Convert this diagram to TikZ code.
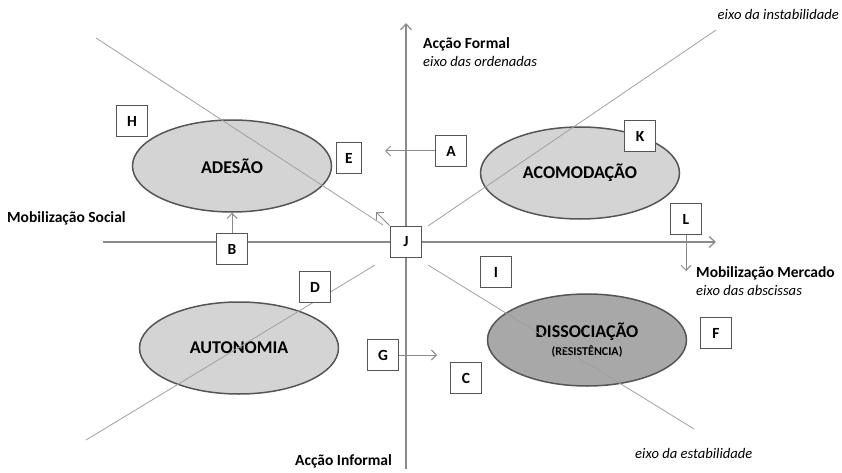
\documentclass[tikz,border=0pt]{standalone}
\usepackage{fontspec}
\setmainfont{Carlito}
\usetikzlibrary{arrows.meta,shapes.geometric}
\definecolor{axisgray}{HTML}{8A8A8A}
\definecolor{linegray}{HTML}{A0A0A0}
\definecolor{lightfill}{HTML}{D4D4D4}
\definecolor{darkfill}{HTML}{A8A8A8}
\definecolor{rimgray}{HTML}{555555}
\newcommand{\axisnote}[1]{{\fontsize{14.6}{18}\selectfont\itshape #1}}
\tikzset{
	letterbox/.style={draw=rimgray, line width=1.8pt, fill=white, minimum width=31pt, minimum height=31pt, inner sep=0pt, font=\fontsize{15.5}{15.5}\selectfont\bfseries},
	zone/.style={ellipse, draw=rimgray, line width=1.5pt, fill=lightfill, minimum width=199pt, minimum height=92pt, inner sep=0pt, font=\fontsize{18}{18}\selectfont\bfseries},
	axis/.style={draw=axisgray, line width=1.2pt},
	diag/.style={draw=linegray, line width=0.8pt},
	pointer/.style={draw=axisgray, line width=1pt, -{Straight Barb[length=5pt,width=10pt]}},
	axislabel/.style={anchor=west, inner sep=0pt, align=left, font=\fontsize{15.5}{18}\selectfont},
}
\begin{document}
\begin{tikzpicture}[x=1pt,y=-1pt]
		\useasboundingbox (0,0) rectangle (842,473);
		
		% eixos
		\coordinate (Ytop) at (406,23);
		\coordinate (Ybot) at (406,469);
		\coordinate (Xleft) at (103,242);
		\coordinate (Xright) at (716,242);
		\draw[axis, -{Straight Barb[length=6pt,width=11pt]}] (Ybot)--(Ytop);
		\draw[axis, -{Straight Barb[length=6pt,width=11pt]}] (Xleft)--(Xright);
		
		% zonas
		\node[zone] (ADE) at (232,166) {ADESÃO};
		\node[zone] (ACO) at (580,173) {ACOMODAÇÃO};
		\node[zone] (AUT) at (239,348) {AUTONOMIA};
		\node[zone, fill=darkfill, align=center] (DIS) at (587,340) {DISSOCIAÇÃO\\[0pt]{\fontsize{12}{12}\selectfont (RESISTÊNCIA)}};
		
		% eixos diagonais
		\coordinate (Ia) at (86,440);
		\coordinate (Ib) at (375,265);
		\coordinate (Ic) at (428,226);
		\coordinate (Id) at (716,30);
		\coordinate (Ea) at (96,38);
		\coordinate (Eb) at (383,225);
		\coordinate (Ec) at (428,265);
		\coordinate (Ed) at (694,429);
		\draw[diag] (Ia)--(Ib);
		\draw[diag] (Ic)--(Id);
		\draw[diag] (Ea)--(Eb);
		\draw[diag] (Ec)--(Ed);
		
		% caixas
		\node[letterbox] (J) at (406,242) {J};
		\node[letterbox] (H) at (132,121) {H};
		\node[letterbox, minimum width=25pt] (E) at (349,158) {E};
		\node[letterbox] (A) at (451,151) {A};
		\node[letterbox] (K) at (640,136) {K};
		\node[letterbox] (L) at (686,219) {L};
		\node[letterbox] (B) at (232,249) {B};
		\node[letterbox] (D) at (315,287) {D};
		\node[letterbox] (G) at (383,355) {G};
		\node[letterbox] (I) at (496,272) {I};
		\node[letterbox] (C) at (466,378) {C};
		\node[letterbox] (F) at (716,333) {F};
		
		\coordinate (Atip) at (385,151);
		\coordinate (Gtip) at (437,355);
		\coordinate (Ltip) at (686,271);
		\coordinate (Jtip) at (376,212);
		\draw[pointer] (A)--(Atip);
		\draw[pointer] (B)--(ADE);
		\draw[pointer] (G)--(Gtip);
		\draw[pointer] (L)--(Ltip);
		\draw[pointer] (J.north west)--(Jtip);
		
		% textos
		\node[axislabel] (formal) at (423,52) {\textbf{Acção Formal}\\\axisnote{eixo das ordenadas}};
		\node[axislabel, anchor=east] (instab) at (839,14) {\axisnote{eixo da instabilidade}};
		\node[axislabel] (social) at (7,218) {\textbf{Mobilização Social}};
		\node[axislabel] (mercado) at (696,281) {\textbf{Mobilização Mercado}\\\axisnote{eixo das abscissas}};
		\node[axislabel] (estab) at (635,453) {\axisnote{eixo da estabilidade}};
		\node[axislabel] (informal) at (295,461) {\textbf{Acção Informal}};
\end{tikzpicture}
\end{document}
